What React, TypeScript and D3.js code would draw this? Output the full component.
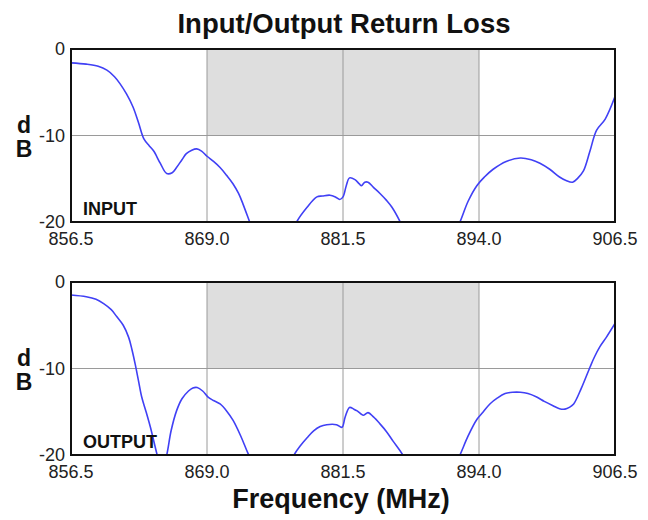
import React from "react";
import * as d3 from "d3";

const xTicks = [856.5, 869.0, 881.5, 894.0, 906.5];
const yTicks = [0, -10, -20];
const bandStart = 869.0;
const bandEnd = 894.0;
const bandTop = 0;
const bandBottom = -10;

const inputFreq = [
  856.5, 857.9, 859.0, 859.8, 860.5, 861.0, 861.6, 862.2, 862.7, 863.2, 863.7, 864.1, 864.7, 865.3, 865.8,
  866.2, 866.7, 867.1, 867.6, 868.05, 868.5, 869.0, 869.6, 870.2, 870.8, 871.4, 871.9, 872.3, 872.95, 873.8,
  875.0, 876.3, 877.24, 878.2, 879.1, 879.6, 880.3, 880.8, 881.2, 881.5, 881.8, 882.1, 882.6, 883.0, 883.2,
  883.5, 883.8, 884.3, 884.9, 885.5, 886.0, 886.8, 888.0, 889.5, 891.0, 892.25, 893.0, 893.8, 894.5, 895.3,
  896.5, 897.8, 898.8, 899.6, 900.5, 901.4, 902.0, 902.6, 903.1, 903.6, 904.2, 904.8, 905.6, 906.5,
];
const inputDb = [
  -1.6, -1.75, -2.0, -2.45, -3.2, -4.0, -5.2, -6.7, -8.5, -10.4, -11.2, -11.8, -13.2, -14.4, -14.3,
  -13.7, -12.8, -12.1, -11.7, -11.55, -11.8, -12.4, -13.0, -13.7, -14.6, -15.6, -16.7, -17.9, -20.1, -23,
  -25, -23, -20, -18.3, -17.1, -17.0, -16.9, -17.1, -17.4, -17.1, -15.8, -14.9, -15.1, -15.6, -15.8,
  -15.4, -15.4, -16.0, -16.7, -17.5, -18.3, -20.1, -23.5, -25, -23.5, -20, -17.6, -15.8, -14.8, -13.9,
  -13.0, -12.6, -12.8, -13.2, -13.9, -14.8, -15.2, -15.4, -14.9, -14.1, -11.8, -9.4, -8.1, -5.5,
];

const outputFreq = [
  856.5, 857.9, 858.8, 859.5, 860.2, 860.7, 861.3, 861.8, 862.1, 862.4, 862.7, 863.0, 863.4, 863.8, 864.4,
  864.85, 865.3, 865.7, 866.2, 866.7, 867.3, 867.7, 868.1, 868.6, 869.1, 869.6, 870.2, 870.8, 871.4, 872.1,
  872.8, 874.0, 875.2, 876.2, 877.0, 877.6, 878.2, 878.8, 879.4, 880.0, 880.9, 881.4, 881.7, 882.1, 882.5,
  882.8, 883.1, 883.4, 883.8, 884.3, 884.9, 885.5, 886.1, 887.0, 888.5, 890.0, 891.3, 892.25, 893.0, 893.8,
  894.4, 895.0, 895.7, 896.4, 897.1, 897.8, 898.5, 899.3, 900.0, 900.8, 901.4, 901.9, 902.3, 902.7, 903.4,
  904.2, 904.6, 905.1, 905.7, 906.5,
];
const outputDb = [
  -1.5, -1.7, -2.0, -2.5, -3.2, -4.0, -5.0, -6.4, -7.8, -9.5, -11.4, -13.3, -15.0, -16.8, -19.9,
  -22, -20, -17.2, -14.9, -13.5, -12.6, -12.25, -12.2, -12.6, -13.3, -13.7, -14.1, -14.9, -16.0, -17.8,
  -19.9, -23, -24, -22.5, -20, -18.9, -18.0, -17.2, -16.7, -16.5, -16.5, -16.8, -15.6, -14.5, -14.7,
  -14.9, -15.2, -15.4, -15.1, -15.6, -16.4, -17.3, -18.4, -20, -23.5, -24.5, -22.5, -20, -17.8, -15.9,
  -15.0, -14.1, -13.4, -12.9, -12.75, -12.75, -12.9, -13.3, -13.8, -14.3, -14.65, -14.7, -14.5, -14.1, -12.3,
  -9.85, -8.7, -7.5, -6.4, -4.8,
];

const W = 648;
const H = 520;
const left = 71;
const right = 615;
const panelH = 173;
const panels = [
  { name: "INPUT", top: 49, freq: inputFreq, db: inputDb },
  { name: "OUTPUT", top: 282, freq: outputFreq, db: outputDb },
];

const FONT = "'Liberation Sans', Arial, Helvetica, sans-serif";

function Panel({ p, idx }: { p: (typeof panels)[number]; idx: number }) {
  const x = d3.scaleLinear().domain([856.5, 906.5]).range([left, right]);
  const y = d3.scaleLinear().domain([0, -20]).range([p.top, p.top + panelH]);
  const pts = p.freq.map((f, i) => [f, p.db[i]] as [number, number]);
  const line = d3
    .line<[number, number]>()
    .x((d) => x(d[0]))
    .y((d) => y(d[1]))
    .curve(d3.curveCatmullRom.alpha(0.5));
  const clipId = `clip-${idx}`;
  return (
    <g>
      <defs>
        <clipPath id={clipId}>
          <rect x={left} y={p.top} width={right - left} height={panelH} />
        </clipPath>
      </defs>
      <rect x={left} y={p.top} width={right - left} height={panelH} fill="#ffffff" />
      <rect
        x={x(bandStart)}
        y={y(bandTop)}
        width={x(bandEnd) - x(bandStart)}
        height={y(bandBottom) - y(bandTop)}
        fill="#dedede"
      />
      {xTicks.slice(1, -1).map((t) => (
        <line key={t} x1={x(t)} x2={x(t)} y1={p.top} y2={p.top + panelH} stroke="#9a9a9a" strokeWidth={1} />
      ))}
      <line x1={left} x2={right} y1={y(-10)} y2={y(-10)} stroke="#9a9a9a" strokeWidth={1} />
      <path d={line(pts) || ""} fill="none" stroke="#4040f5" strokeWidth={1.6} clipPath={`url(#${clipId})`} />
      <rect x={left} y={p.top} width={right - left} height={panelH} fill="none" stroke="#111" strokeWidth={2} />
      {yTicks.map((t) => (
        <text key={t} x={65} y={y(t) + 6} textAnchor="end" fontSize={18} fontFamily={FONT} fill="#222">
          {t}
        </text>
      ))}
      {xTicks.map((t) => (
        <text key={t} x={x(t)} y={p.top + panelH + 23} textAnchor="middle" fontSize={18} fontFamily={FONT} fill="#222">
          {t.toFixed(1)}
        </text>
      ))}
      <text x={24} y={p.top + 84} textAnchor="middle" fontSize={23} fontWeight="bold" fontFamily={FONT} fill="#111">
        d
      </text>
      <text x={24} y={p.top + 108} textAnchor="middle" fontSize={23} fontWeight="bold" fontFamily={FONT} fill="#111">
        B
      </text>
      <text x={83} y={p.top + panelH - 7} fontSize={18} fontWeight="bold" fontFamily={FONT} fill="#111">
        {p.name}
      </text>
    </g>
  );
}

export default function App() {
  return (
    <svg
      width={W}
      height={H}
      viewBox={`0 0 ${W} ${H}`}
      style={{ position: "absolute", left: 0, top: 0, background: "#fff" }}
    >
      <rect width={W} height={H} fill="#fff" />
      <text x={344} y={33} textAnchor="middle" fontSize={27.5} fontWeight="bold" fontFamily={FONT} fill="#111">
        Input/Output Return Loss
      </text>
      {panels.map((p, i) => (
        <Panel key={p.name} p={p} idx={i} />
      ))}
      <text x={341} y={508} textAnchor="middle" fontSize={27} fontWeight="bold" fontFamily={FONT} fill="#111">
        Frequency (MHz)
      </text>
    </svg>
  );
}
